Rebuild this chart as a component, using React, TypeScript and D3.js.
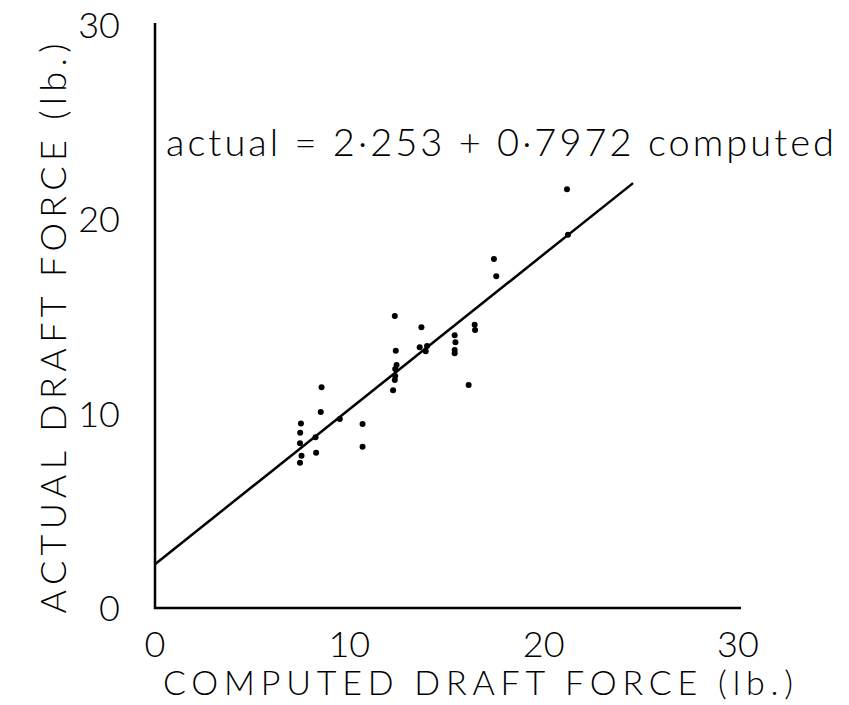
import * as d3 from "d3";
import React from "react";

const W = 849;
const H = 705;

// computed draft force (lb.) -> actual draft force (lb.)
const computed = [
  8.57, 8.53, 7.51, 7.47, 7.46, 7.54, 7.46, 8.26, 8.29, 9.51, 10.68, 10.68,
  17.44, 17.56, 12.34, 13.71, 12.39, 12.43, 12.36, 12.36, 12.34, 12.25, 13.62,
  14.0, 13.93, 15.42, 15.46, 15.42, 15.42, 16.45, 16.47, 16.14, 21.2, 21.25,
];
const actual = [
  11.36, 10.09, 9.49, 9.02, 8.48, 7.84, 7.48, 8.79, 7.99, 9.73, 9.47, 8.3,
  17.96, 17.07, 15.03, 14.45, 13.24, 12.51, 12.3, 11.94, 11.73, 11.2, 13.42,
  13.48, 13.21, 14.04, 13.67, 13.28, 13.11, 14.58, 14.31, 11.48, 21.55, 19.21,
];

const xTicks = [0, 10, 20, 30];
const yTicks = [0, 10, 20, 30];
const intercept = 2.253;
const slope = 0.7972;
const fitRange = [0, 24.6];

const FONT = "Lato, 'Open Sans', sans-serif";

export default function App() {
  const x = d3.scaleLinear().domain([0, 30]).range([155, 738]);
  const y = d3.scaleLinear().domain([0, 30]).range([608, 25]);

  const fit = d3
    .line<number>()
    .x((d) => x(d))
    .y((d) => y(intercept + slope * d));

  return (
    <svg
      width={W}
      height={H}
      style={{ position: "absolute", left: 0, top: 0, background: "#fff" }}
      fontFamily={FONT}
      fontWeight={300}
    >
      {/* axes */}
      <path
        d={`M${x(0)},${y(30) - 2}V${y(0)}H${x(30) + 3}`}
        fill="none"
        stroke="#000"
        strokeWidth={2.5}
      />

      {xTicks.map((t) => (
        <text key={"x" + t} x={x(t)} y={657} textAnchor="middle" fontSize={36}>
          {t}
        </text>
      ))}
      {yTicks.map((t) => (
        <text key={"y" + t} x={120} y={y(t) + 13} textAnchor="end" fontSize={36}>
          {t}
        </text>
      ))}

      <text x={478} y={695} textAnchor="middle" fontSize={34} textLength={630}>
        COMPUTED  DRAFT  FORCE (lb.)
      </text>
      <text
        transform={`translate(66,${(y(0) + y(30)) / 2 + 12}) rotate(-90)`}
        textAnchor="middle"
        fontSize={36}
        textLength={570}
      >
        ACTUAL  DRAFT  FORCE (lb.)
      </text>

      <text x={166} y={156} fontSize={38} textLength={668}>
        actual = 2·253 + 0·7972 computed
      </text>

      <path d={fit(fitRange) ?? ""} fill="none" stroke="#000" strokeWidth={2.5} />

      {computed.map((c, i) => (
        <circle key={i} cx={x(c)} cy={y(actual[i])} r={3} fill="#000" />
      ))}
    </svg>
  );
}
